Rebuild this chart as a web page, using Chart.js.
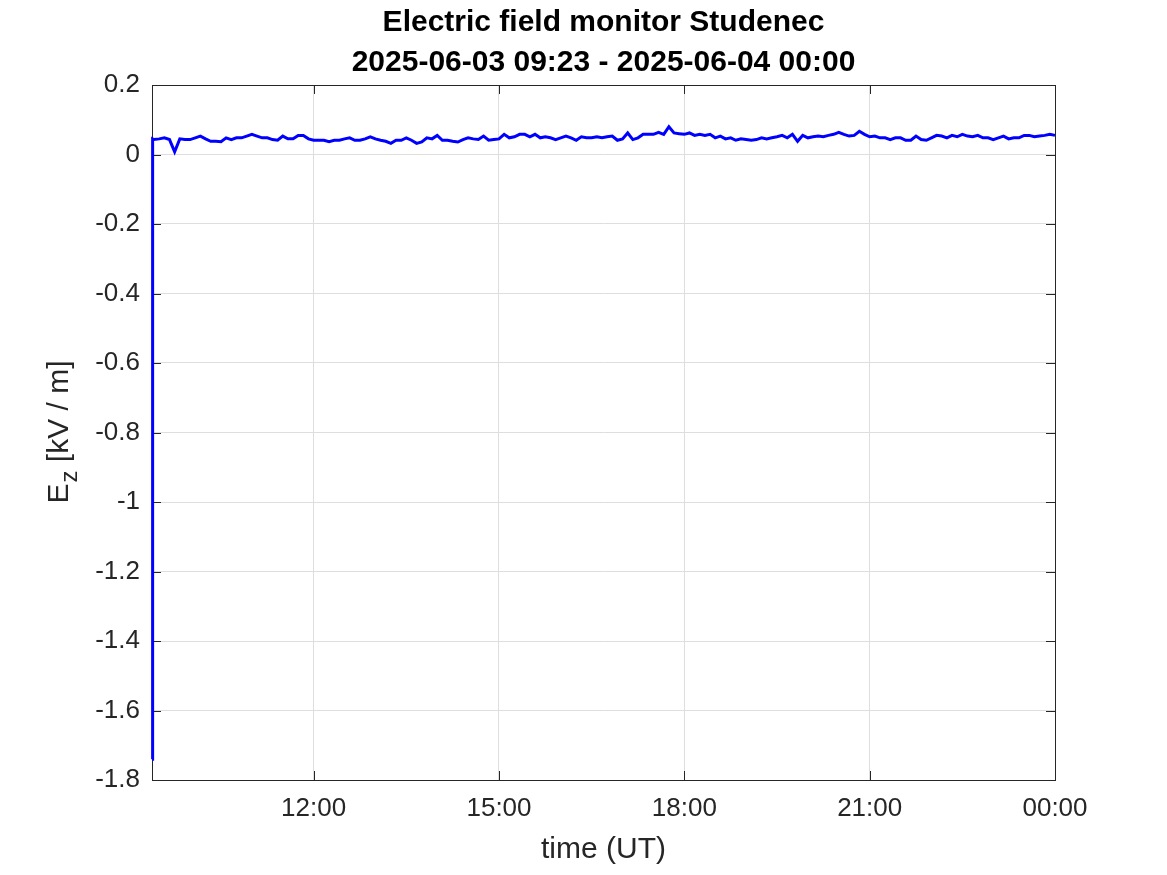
<!DOCTYPE html>
<html>
<head>
<meta charset="utf-8">
<script src="https://cdn.jsdelivr.net/npm/chart.js@4.4.1/dist/chart.umd.min.js"></script>
<style>
  html, body { margin: 0; padding: 0; background: #fff; }
  #chart { display: block; }
</style>
</head>
<body>
<canvas id="chart" width="1167" height="875"></canvas>
<script>
// Time axis is minutes since 2025-06-03 00:00 UT
const titleLines = ['Electric field monitor Studenec', '2025-06-03 09:23 - 2025-06-04 00:00'];
const xTickMinutes = [720, 900, 1080, 1260, 1440];
const xTickLabels = ['12:00', '15:00', '18:00', '21:00', '00:00'];
const xMin = 563;   // 09:23
const xMax = 1440;  // 00:00 next day

// start-up transient right at 09:23
const transientTimes = [563, 563.6];
const transientValues = [-1.74, 0.045];

// then one reading every 5 minutes from 09:25 (kV/m)
const sampleStart = 565;
const sampleStep = 5;
const ezValues = [
  0.043, 0.045, 0.048, 0.043, 0.008, 0.045, 0.043, 0.043, 0.048, 0.053,
  0.045, 0.038, 0.038, 0.037, 0.048, 0.043, 0.048, 0.048, 0.053, 0.058,
  0.053, 0.048, 0.048, 0.043, 0.041, 0.053, 0.045, 0.045, 0.055, 0.055,
  0.045, 0.041, 0.041, 0.041, 0.037, 0.041, 0.041, 0.045, 0.048, 0.041,
  0.041, 0.045, 0.051, 0.045, 0.041, 0.038, 0.032, 0.041, 0.041, 0.048,
  0.041, 0.032, 0.036, 0.048, 0.045, 0.055, 0.041, 0.041, 0.038, 0.036,
  0.043, 0.048, 0.045, 0.043, 0.053, 0.041, 0.043, 0.045, 0.058, 0.048,
  0.051, 0.058, 0.058, 0.051, 0.058, 0.048, 0.051, 0.048, 0.043, 0.048,
  0.053, 0.048, 0.041, 0.051, 0.048, 0.048, 0.051, 0.048, 0.051, 0.053,
  0.041, 0.045, 0.062, 0.043, 0.048, 0.058, 0.058, 0.058, 0.064, 0.058,
  0.080, 0.062, 0.060, 0.058, 0.062, 0.055, 0.058, 0.055, 0.058, 0.048,
  0.053, 0.045, 0.048, 0.041, 0.045, 0.043, 0.041, 0.043, 0.048, 0.045,
  0.048, 0.051, 0.055, 0.048, 0.058, 0.038, 0.055, 0.048, 0.051, 0.053,
  0.051, 0.055, 0.058, 0.064, 0.058, 0.053, 0.055, 0.067, 0.058, 0.051,
  0.053, 0.048, 0.048, 0.043, 0.048, 0.048, 0.041, 0.041, 0.053, 0.043,
  0.041, 0.048, 0.055, 0.053, 0.048, 0.055, 0.051, 0.058, 0.053, 0.051,
  0.055, 0.048, 0.048, 0.043, 0.048, 0.053, 0.045, 0.048, 0.048, 0.055,
  0.055, 0.051, 0.053, 0.055, 0.058, 0.055
];

const points = [];
for (let i = 0; i < transientTimes.length; i++) {
  points.push({ x: transientTimes[i], y: transientValues[i] });
}
ezValues.forEach((v, i) => points.push({ x: sampleStart + i * sampleStep, y: v }));

const axisColor = '#262626';
const gridColor = '#dedede';
const fontFamily = '"Liberation Sans", Arial, Helvetica, sans-serif';

// MATLAB-like box and inward ticks, under the data line
const boxPlugin = {
  id: 'box',
  beforeDatasetsDraw(chart) {
    const ctx = chart.ctx;
    const a = chart.chartArea;
    const xs = chart.scales.x;
    const ys = chart.scales.y;
    const tl = 9;
    ctx.save();
    ctx.strokeStyle = axisColor;
    ctx.lineWidth = 1;
    ctx.strokeRect(Math.round(a.left) + 0.5, Math.round(a.top) + 0.5,
      Math.round(a.right - a.left), Math.round(a.bottom - a.top));
    ctx.beginPath();
    xTickMinutes.forEach(m => {
      const px = Math.round(xs.getPixelForValue(m)) + 0.5;
      ctx.moveTo(px, a.bottom); ctx.lineTo(px, a.bottom - tl);
      ctx.moveTo(px, a.top); ctx.lineTo(px, a.top + tl);
    });
    ys.ticks.forEach(t => {
      const py = Math.round(ys.getPixelForValue(t.value)) + 0.5;
      ctx.moveTo(a.left, py); ctx.lineTo(a.left + tl, py);
      ctx.moveTo(a.right, py); ctx.lineTo(a.right - tl, py);
    });
    ctx.stroke();
    ctx.restore();
  }
};

// titles
const textPlugin = {
  id: 'texts',
  afterDraw(chart) {
    const ctx = chart.ctx;
    const a = chart.chartArea;
    ctx.save();
    const cx = (a.left + a.right) / 2;
    ctx.fillStyle = '#000';
    ctx.textAlign = 'center';
    ctx.textBaseline = 'middle';
    ctx.font = 'bold 30px ' + fontFamily;
    ctx.fillText(titleLines[0], cx, 23);
    ctx.fillText(titleLines[1], cx, 63);

    // x axis title
    ctx.fillStyle = axisColor;
    ctx.font = '30px ' + fontFamily;
    ctx.fillText('time (UT)', cx, 850);

    // y axis title with subscript
    ctx.translate(57, (a.top + a.bottom) / 2);
    ctx.rotate(-Math.PI / 2);
    ctx.textAlign = 'left';
    ctx.textBaseline = 'alphabetic';
    const big = '30px ' + fontFamily;
    const small = '24px ' + fontFamily;
    ctx.font = big;
    const wE = ctx.measureText('E').width;
    const rest = ' [kV / m]';
    const wRest = ctx.measureText(rest).width;
    ctx.font = small;
    const wZ = ctx.measureText('z').width;
    const total = wE + wZ + wRest;
    let x0 = -total / 2;
    ctx.font = big;
    ctx.fillText('E', x0, 11);
    ctx.font = small;
    ctx.fillText('z', x0 + wE + 1, 20);
    ctx.font = big;
    ctx.fillText(rest, x0 + wE + wZ + 1, 11);
    ctx.restore();
  }
};

const whiteBg = {
  id: 'whiteBg',
  beforeDraw(chart) {
    const ctx = chart.ctx;
    ctx.save();
    ctx.fillStyle = '#fff';
    ctx.fillRect(0, 0, chart.width, chart.height);
    ctx.restore();
  }
};

new Chart(document.getElementById('chart'), {
  type: 'line',
  data: {
    datasets: [{
      data: points,
      borderColor: '#0000ff',
      borderWidth: 3,
      pointRadius: 0,
      tension: 0,
      fill: false,
      clip: 3
    }]
  },
  options: {
    responsive: false,
    animation: false,
    devicePixelRatio: 1,
    layout: { padding: { left: 0, top: 85, right: 112, bottom: 0 } },
    plugins: {
      legend: { display: false },
      title: { display: false },
      tooltip: { enabled: false }
    },
    scales: {
      x: {
        type: 'linear',
        min: xMin,
        max: xMax,
        afterBuildTicks(scale) {
          scale.ticks = xTickMinutes.map(v => ({ value: v }));
        },
        afterFit(scale) { scale.height = 95; },
        grid: { color: gridColor, drawTicks: false },
        border: { display: false },
        ticks: {
          color: axisColor,
          font: { size: 26, family: fontFamily },
          padding: 13,
          maxRotation: 0,
          callback(value) {
            const i = xTickMinutes.indexOf(value);
            return i >= 0 ? xTickLabels[i] : '';
          }
        }
      },
      y: {
        min: -1.8,
        max: 0.2,
        afterFit(scale) { scale.width = 152; },
        grid: { color: gridColor, drawTicks: false },
        border: { display: false },
        ticks: {
          stepSize: 0.2,
          color: axisColor,
          font: { size: 26, family: fontFamily },
          padding: 12,
          callback(value) {
            return String(Number(value.toFixed(1)));
          }
        }
      }
    }
  },
  plugins: [whiteBg, boxPlugin, textPlugin]
});
</script>
</body>
</html>
